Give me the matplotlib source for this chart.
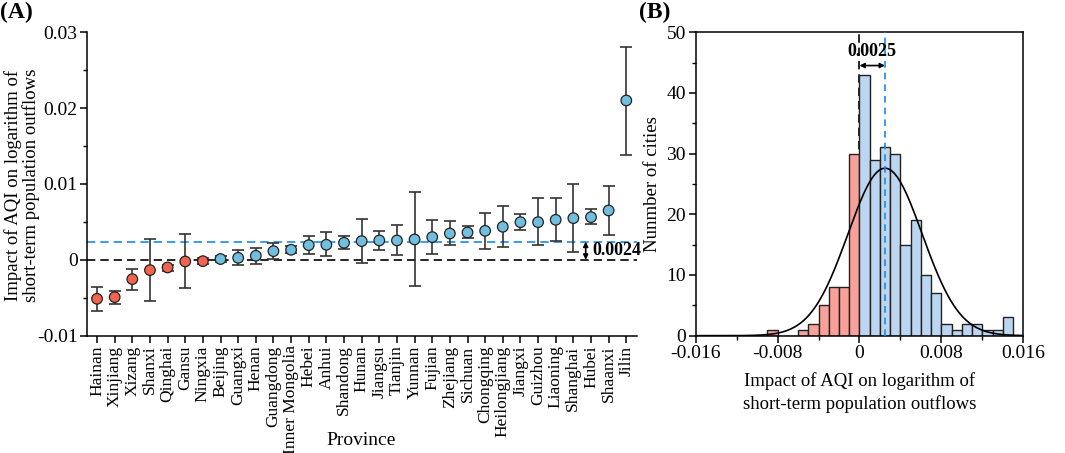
import numpy as np
import matplotlib
matplotlib.use("Agg")
import matplotlib.pyplot as plt
from matplotlib.ticker import MultipleLocator, FixedLocator

plt.rcParams['font.family'] = ['Liberation Serif', 'DejaVu Serif']
plt.rcParams['mathtext.fontset'] = 'stix'

# ---------------- data: panel A ----------------
provinces = ["Hainan", "Xinjiang", "Xizang", "Shanxi", "Qinghai", "Gansu", "Ningxia",
             "Beijing", "Guangxi", "Henan", "Guangdong", "Inner Mongolia", "Hebei", "Anhui",
             "Shandong", "Hunan", "Jiangsu", "Tianjin", "Yunnan", "Fujian", "Zhejiang",
             "Sichuan", "Chongqing", "Heilongjiang", "Jiangxi", "Guizhou", "Liaoning",
             "Shanghai", "Hubei", "Shaanxi", "Jilin"]
estimate = [-0.00514, -0.00492, -0.00255, -0.00136, -0.00101, -0.00022, -0.00018,
            0.00010, 0.00026, 0.00053, 0.00114, 0.00132, 0.00193, 0.00198,
            0.00224, 0.00246, 0.00255, 0.00255, 0.00268, 0.00299, 0.00347,
            0.00360, 0.00382, 0.00435, 0.00496, 0.00496, 0.00527,
            0.00549, 0.00562, 0.00650, 0.02100]
upper = [-0.00360, -0.00410, -0.00123, 0.00277, -0.00066, 0.00343, 0.00020,
         0.00044, 0.00127, 0.00154, 0.00220, 0.00176, 0.00316, 0.00360,
         0.00320, 0.00536, 0.00382, 0.00452, 0.00887, 0.00518, 0.00505,
         0.00439, 0.00615, 0.00703, 0.00606, 0.00808, 0.00821,
         0.00993, 0.00663, 0.00975, 0.02807]
lower = [-0.00672, -0.00589, -0.00395, -0.00549, -0.00145, -0.00378, -0.00060,
         -0.00035, -0.00075, -0.00060, 0.00004, 0.00088, 0.00075, 0.00053,
         0.00145, -0.00044, 0.00127, 0.00061, -0.00351, 0.00079, 0.00189,
         0.00281, 0.00145, 0.00163, 0.00395, 0.00189, 0.00242,
         0.00105, 0.00466, 0.00329, 0.01384]
mean_a = 0.0024

# ---------------- data: panel B ----------------
bin_edges = [-0.009, -0.008, -0.007, -0.006, -0.005, -0.004, -0.003, -0.002, -0.001, 0.0,
             0.001, 0.002, 0.003, 0.004, 0.005, 0.006, 0.007, 0.008, 0.009, 0.010,
             0.011, 0.012, 0.013, 0.014, 0.015]
counts = [1, 0, 0, 1, 2, 5, 8, 8, 30,
          43, 29, 31, 30, 15, 19, 10, 7, 2, 1, 2, 2, 1, 1, 3]
mean_b = 0.0025
sd_b = 0.00363

red_m = '#f26450'
blue_m = '#72bede'
red_h = '#f8a19a'
blue_h = '#bcd5f0'
blue_line = '#1a8be6'

fig = plt.figure(figsize=(10.65, 4.53), dpi=100)
axA = fig.add_axes([0.082, 0.259, 0.516, 0.670])
axB = fig.add_axes([0.6532, 0.259, 0.3076, 0.670])

# ---------------- panel A ----------------
x = np.arange(len(provinces))
est = np.array(estimate)
up = np.array(upper)
lo = np.array(lower)
axA.axhline(0, color='black', ls=(0, (5, 3)), lw=1.2, zorder=1)
axA.axhline(mean_a, color=blue_line, ls=(0, (5, 3)), lw=1.2, zorder=1)
axA.errorbar(x, est, yerr=[est - lo, up - est], fmt='none', ecolor='#333333',
             elinewidth=1.2, capsize=4, capthick=1.2, zorder=2)
colors = [red_m if i <= 6 else blue_m for i in range(len(x))]
axA.scatter(x, est, s=58, c=colors, edgecolors='#222222', linewidths=0.9, zorder=3)

axA.set_xlim(-0.55, 30.6)
axA.set_ylim(-0.01, 0.03)
axA.set_xticks(x)
axA.set_xticklabels(provinces, rotation=90, fontsize=12.5)
axA.yaxis.set_major_locator(FixedLocator([-0.01, 0, 0.01, 0.02, 0.03]))
axA.set_yticklabels(['-0.01', '0', '0.01', '0.02', '0.03'], fontsize=14)
axA.yaxis.set_minor_locator(MultipleLocator(0.005))
axA.spines['top'].set_visible(False)
axA.spines['right'].set_visible(False)
for s in ['left', 'bottom']:
    axA.spines[s].set_linewidth(1.1)
axA.tick_params(axis='both', direction='out', length=5, width=1.1, pad=2)
axA.tick_params(axis='y', which='minor', direction='out', length=3, width=1.0)
axA.set_xlabel('Province', fontsize=14)
axA.xaxis.label.set_va('center')
axA.xaxis.set_label_coords(0.498, -0.344)
fig.text(22.5 / 1065, 1 - 185 / 453,
         'Impact of AQI on logarithm of\nshort-term population outflows',
         fontsize=13.5, rotation=90, ha='center', va='center', linespacing=1.0,
         multialignment='center')
axA.annotate('', xy=(27.7, 0.0), xytext=(27.7, mean_a),
             arrowprops=dict(arrowstyle='<|-|>', color='black', lw=1.2,
                             mutation_scale=7, shrinkA=0, shrinkB=0))
axA.text(28.1, mean_a / 2, '0.0024', fontsize=13, fontweight='bold', va='center', ha='left')
fig.text(0.0, 0.995, '(A)', fontsize=17, fontweight='bold', va='top', ha='left')

# ---------------- panel B ----------------
edges = np.array(bin_edges)
cnt = np.array(counts)
lefts = edges[:-1]
bcolors = [red_h if e < 0 else blue_h for e in lefts]
axB.axvline(0, color='black', ls=(0, (5, 3)), lw=1.2, zorder=1)
axB.bar(lefts, cnt, width=np.diff(edges), align='edge', color=bcolors,
        edgecolor='#222222', linewidth=1.0, zorder=2)
xs = np.linspace(-0.016, 0.016, 400)
total = cnt.sum()
pdf = total * 0.001 / (sd_b * np.sqrt(2 * np.pi)) * np.exp(-(xs - mean_b) ** 2 / (2 * sd_b ** 2))
axB.plot(xs, pdf, color='black', lw=1.2, zorder=3)
axB.axvline(mean_b, color=blue_line, ls=(0, (4, 3)), lw=1.2, zorder=4)
axB.annotate('', xy=(0.0, 44.5), xytext=(mean_b, 44.5),
             arrowprops=dict(arrowstyle='<|-|>', color='black', lw=1.2,
                             mutation_scale=7, shrinkA=0, shrinkB=0), zorder=5)
axB.text(mean_b / 2, 46.8, '0.0025', fontsize=13, fontweight='bold', ha='center', va='center', zorder=5)

axB.set_xlim(-0.016, 0.016)
axB.set_ylim(0, 50)
axB.xaxis.set_major_locator(FixedLocator([-0.016, -0.008, 0, 0.008, 0.016]))
axB.set_xticklabels(['-0.016', '-0.008', '0', '0.008', '0.016'], fontsize=14)
axB.xaxis.set_minor_locator(MultipleLocator(0.004))
axB.yaxis.set_major_locator(MultipleLocator(10))
axB.yaxis.set_minor_locator(MultipleLocator(5))
axB.tick_params(axis='both', labelsize=14, direction='out', length=5, width=1.1, pad=2)
axB.tick_params(axis='both', which='minor', direction='out', length=3, width=1.0)
for s in axB.spines.values():
    s.set_linewidth(1.1)
axB.set_xlabel('Impact of AQI on logarithm of\nshort-term population outflows',
               fontsize=13.5, labelpad=7, linespacing=1.35)
axB.set_ylabel('Nunmber of cities', fontsize=13.5, labelpad=4)
fig.text(639 / 1065, 0.995, '(B)', fontsize=17, fontweight='bold', va='top', ha='left')

fig.savefig('out.png', dpi=100)
